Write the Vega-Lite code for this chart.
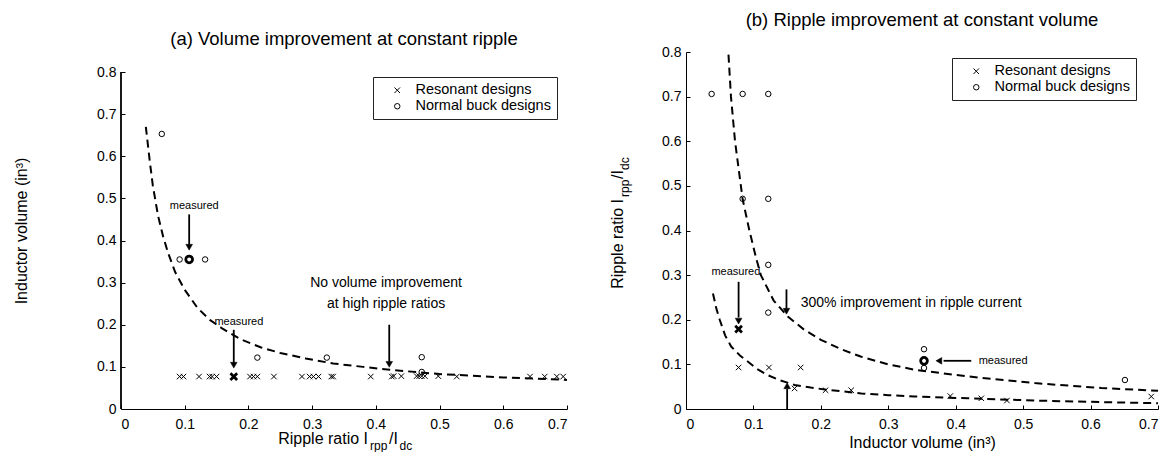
{
  "$schema": "https://vega.github.io/schema/vega-lite/v6.json",
  "padding": {"left": 13, "top": 10, "right": 0, "bottom": 0},
  "spacing": 39,
  "background": "white",
  "config": {
    "view": {"stroke": null},
    "font": "Liberation Sans",
    "title": {"font": "Liberation Sans", "fontSize": 18.5, "fontWeight": "normal", "color": "black", "offset": 16},
    "axis": {"grid": false, "domainColor": "black", "tickColor": "black", "labelColor": "black", "titleColor": "black", "labelFont": "Liberation Sans", "titleFont": "Liberation Sans", "labelFontSize": 14, "titleFontSize": 16, "titleFontWeight": "normal", "tickSize": -4},
    "axisX": {"labelPadding": 12},
    "axisY": {"labelPadding": 9}
  },
  "resolve": {"scale": {"shape": "independent", "x": "independent", "y": "independent"}},
  "hconcat": [
    {
      "width": 446,
      "height": 357,
      "title": {"text": "(a) Volume improvement at constant ripple", "offset": 4},
      "encoding": {
        "x": {"field": "x", "type": "quantitative", "scale": {"domain": [0, 0.7], "nice": false, "zero": false}, "axis": {"values": [0, 0.1, 0.2, 0.3, 0.4, 0.5, 0.6, 0.7], "format": "~g", "title": null}},
        "y": {"field": "y", "type": "quantitative", "scale": {"domain": [0, 0.8475], "nice": false, "zero": false}, "axis": {"values": [0, 0.1, 0.2, 0.3, 0.4, 0.5, 0.6, 0.7, 0.8], "format": "~g", "domain": false, "title": "Inductor volume (in³)", "titlePadding": 67}}
      },
      "layer": [
        {
          "data": {"values": [
            {"x": 0.039, "y": 0.67}, {"x": 0.045, "y": 0.59}, {"x": 0.05, "y": 0.53}, {"x": 0.058, "y": 0.46}, {"x": 0.066, "y": 0.41}, {"x": 0.074, "y": 0.37}, {"x": 0.085, "y": 0.325}, {"x": 0.1, "y": 0.283}, {"x": 0.12, "y": 0.24}, {"x": 0.14, "y": 0.211}, {"x": 0.16, "y": 0.19}, {"x": 0.187, "y": 0.166}, {"x": 0.22, "y": 0.146}, {"x": 0.25, "y": 0.133}, {"x": 0.29, "y": 0.12}, {"x": 0.333, "y": 0.108}, {"x": 0.38, "y": 0.1}, {"x": 0.422, "y": 0.093}, {"x": 0.5, "y": 0.083}, {"x": 0.6, "y": 0.075}, {"x": 0.7, "y": 0.069}
          ]},
          "mark": {"type": "line", "stroke": "black", "strokeWidth": 2, "strokeDash": [8, 5]}
        },
        {
          "data": {"values": [
            {"x": 0.064, "y": 0.653, "type": "Normal buck designs"}, {"x": 0.092, "y": 0.355, "type": "Normal buck designs"}, {"x": 0.132, "y": 0.355, "type": "Normal buck designs"}, {"x": 0.214, "y": 0.122, "type": "Normal buck designs"}, {"x": 0.323, "y": 0.122, "type": "Normal buck designs"}, {"x": 0.472, "y": 0.123, "type": "Normal buck designs"}, {"x": 0.472, "y": 0.088, "type": "Normal buck designs"},
            {"x": 0.092, "y": 0.077, "type": "Resonant designs"}, {"x": 0.098, "y": 0.077, "type": "Resonant designs"}, {"x": 0.1225, "y": 0.077, "type": "Resonant designs"}, {"x": 0.139, "y": 0.077, "type": "Resonant designs"}, {"x": 0.143, "y": 0.077, "type": "Resonant designs"}, {"x": 0.15, "y": 0.077, "type": "Resonant designs"}, {"x": 0.2025, "y": 0.077, "type": "Resonant designs"}, {"x": 0.208, "y": 0.077, "type": "Resonant designs"}, {"x": 0.214, "y": 0.077, "type": "Resonant designs"}, {"x": 0.24, "y": 0.077, "type": "Resonant designs"}, {"x": 0.284, "y": 0.077, "type": "Resonant designs"}, {"x": 0.296, "y": 0.077, "type": "Resonant designs"}, {"x": 0.302, "y": 0.077, "type": "Resonant designs"}, {"x": 0.31, "y": 0.077, "type": "Resonant designs"}, {"x": 0.33, "y": 0.077, "type": "Resonant designs"}, {"x": 0.333, "y": 0.077, "type": "Resonant designs"}, {"x": 0.392, "y": 0.077, "type": "Resonant designs"}, {"x": 0.425, "y": 0.077, "type": "Resonant designs"}, {"x": 0.428, "y": 0.078, "type": "Resonant designs"}, {"x": 0.44, "y": 0.078, "type": "Resonant designs"}, {"x": 0.464, "y": 0.078, "type": "Resonant designs"}, {"x": 0.468, "y": 0.078, "type": "Resonant designs"}, {"x": 0.472, "y": 0.078, "type": "Resonant designs"}, {"x": 0.477, "y": 0.078, "type": "Resonant designs"}, {"x": 0.498, "y": 0.078, "type": "Resonant designs"}, {"x": 0.527, "y": 0.077, "type": "Resonant designs"}, {"x": 0.642, "y": 0.077, "type": "Resonant designs"}, {"x": 0.665, "y": 0.077, "type": "Resonant designs"}, {"x": 0.684, "y": 0.077, "type": "Resonant designs"}, {"x": 0.694, "y": 0.077, "type": "Resonant designs"}
          ]},
          "mark": {"type": "point", "filled": false, "stroke": "black", "strokeWidth": 1, "size": 30, "opacity": 1},
          "encoding": {
            "shape": {"field": "type", "type": "nominal",
              "scale": {"domain": ["Resonant designs", "Normal buck designs"], "range": ["M-1,-1L1,1M-1,1L1,-1", "circle"]},
              "legend": {"orient": "none", "legendX": 252, "legendY": 25, "title": null, "strokeColor": "#222", "fillColor": "white", "padding": 6, "rowPadding": 1, "symbolOffset": 11, "labelOffset": 11, "labelFontSize": 14.5, "labelFont": "Liberation Sans", "labelColor": "black", "symbolStrokeColor": "black", "symbolFillColor": "transparent", "symbolStrokeWidth": 1, "symbolSize": 30}}
          }
        },
        {
          "data": {"values": [
            {"x": 0.107, "y": 0.355, "type": "Normal buck designs"}, {"x": 0.177, "y": 0.077, "type": "Resonant designs"}
          ]},
          "mark": {"type": "point", "filled": false, "stroke": "black", "strokeWidth": 2.8, "size": 45, "opacity": 1},
          "encoding": {
            "shape": {"field": "type", "type": "nominal",
              "scale": {"domain": ["Resonant designs", "Normal buck designs"], "range": ["M-1,-1L1,1M-1,1L1,-1", "circle"]},
              "legend": null}
          }
        },
        {
          "data": {"values": [
            {"x": 0, "y": 0, "x2": 0, "y2": 0.8},
            {"x": 0.107, "y": 0.462, "x2": 0.107, "y2": 0.39}, {"x": 0.177, "y": 0.188, "x2": 0.177, "y2": 0.11}, {"x": 0.421, "y": 0.2, "x2": 0.421, "y2": 0.112}
          ]},
          "mark": {"type": "rule", "stroke": "black", "strokeWidth": 1.8},
          "encoding": {"x2": {"field": "x2"}, "y2": {"field": "y2"}, "strokeWidth": {"condition": {"test": "datum.x === 0", "value": 1}, "value": 1.8}}
        },
        {
          "data": {"values": [
            {"x": 0.107, "y": 0.384}, {"x": 0.177, "y": 0.104}, {"x": 0.421, "y": 0.106}
          ]},
          "mark": {"type": "point", "shape": "triangle-down", "filled": true, "fill": "black", "stroke": "black", "strokeWidth": 0.5, "size": 45, "opacity": 1}
        },
        {
          "data": {"values": [
            {"x": 0.115, "y": 0.482, "t": "measured"}, {"x": 0.185, "y": 0.207, "t": "measured"}
          ]},
          "mark": {"type": "text", "font": "Liberation Sans", "fontSize": 11, "align": "center", "baseline": "middle", "color": "black"},
          "encoding": {"text": {"field": "t"}}
        },
        {
          "data": {"values": [
            {"x": 0.416, "y": 0.298, "t": "No volume improvement"}, {"x": 0.416, "y": 0.25, "t": "at high ripple ratios"}
          ]},
          "mark": {"type": "text", "font": "Liberation Sans", "fontSize": 14, "align": "center", "baseline": "middle", "color": "black"},
          "encoding": {"text": {"field": "t"}}
        },
        {
          "data": {"values": [{"x": 0.3877, "y": -0.0831, "t": "Ripple ratio I"}]},
          "mark": {"type": "text", "font": "Liberation Sans", "fontSize": 16, "align": "right", "baseline": "alphabetic", "color": "black"},
          "encoding": {"text": {"field": "t"}}
        },
        {
          "data": {"values": [{"x": 0.4206, "y": -0.0831, "t": "/I"}]},
          "mark": {"type": "text", "font": "Liberation Sans", "fontSize": 16, "align": "left", "baseline": "alphabetic", "color": "black"},
          "encoding": {"text": {"field": "t"}}
        },
        {
          "data": {"values": [{"x": 0.3908, "y": -0.0962, "t": "rpp"}, {"x": 0.4372, "y": -0.0962, "t": "dc"}]},
          "mark": {"type": "text", "font": "Liberation Sans", "fontSize": 12, "align": "left", "baseline": "alphabetic", "color": "black"},
          "encoding": {"text": {"field": "t"}}
        }
      ]
    },
    {
      "width": 472,
      "height": 357,
      "title": "(b) Ripple improvement at constant volume",
      "encoding": {
        "x": {"field": "x", "type": "quantitative", "scale": {"domain": [0, 0.7], "nice": false, "zero": false}, "axis": {"values": [0, 0.1, 0.2, 0.3, 0.4, 0.5, 0.6, 0.7], "format": "~g", "title": "Inductor volume (in³)", "titlePadding": 3}},
        "y": {"field": "y", "type": "quantitative", "scale": {"domain": [0, 0.8], "nice": false, "zero": false}, "axis": {"values": [0, 0.1, 0.2, 0.3, 0.4, 0.5, 0.6, 0.7, 0.8], "format": "~g", "title": null}}
      },
      "layer": [
        {
          "data": {"values": [
            {"x": 0.063, "y": 0.794, "c": "u"}, {"x": 0.0667, "y": 0.7, "c": "u"}, {"x": 0.0727, "y": 0.6, "c": "u"}, {"x": 0.084, "y": 0.47, "c": "u"}, {"x": 0.094, "y": 0.4, "c": "u"}, {"x": 0.104, "y": 0.338, "c": "u"}, {"x": 0.111, "y": 0.3, "c": "u"}, {"x": 0.13, "y": 0.243, "c": "u"}, {"x": 0.151, "y": 0.207, "c": "u"}, {"x": 0.175, "y": 0.178, "c": "u"}, {"x": 0.2, "y": 0.155, "c": "u"}, {"x": 0.23, "y": 0.134, "c": "u"}, {"x": 0.26, "y": 0.117, "c": "u"}, {"x": 0.3, "y": 0.1, "c": "u"}, {"x": 0.339, "y": 0.088, "c": "u"}, {"x": 0.418, "y": 0.073, "c": "u"}, {"x": 0.517, "y": 0.058, "c": "u"}, {"x": 0.616, "y": 0.047, "c": "u"}, {"x": 0.7, "y": 0.041, "c": "u"},
            {"x": 0.04, "y": 0.259, "c": "l"}, {"x": 0.045, "y": 0.225, "c": "l"}, {"x": 0.05, "y": 0.2, "c": "l"}, {"x": 0.058, "y": 0.165, "c": "l"}, {"x": 0.067, "y": 0.14, "c": "l"}, {"x": 0.08, "y": 0.12, "c": "l"}, {"x": 0.092, "y": 0.106, "c": "l"}, {"x": 0.105, "y": 0.09, "c": "l"}, {"x": 0.121, "y": 0.076, "c": "l"}, {"x": 0.14, "y": 0.064, "c": "l"}, {"x": 0.161, "y": 0.054, "c": "l"}, {"x": 0.185, "y": 0.048, "c": "l"}, {"x": 0.21, "y": 0.043, "c": "l"}, {"x": 0.26, "y": 0.035, "c": "l"}, {"x": 0.3, "y": 0.031, "c": "l"}, {"x": 0.339, "y": 0.028, "c": "l"}, {"x": 0.418, "y": 0.024, "c": "l"}, {"x": 0.516, "y": 0.019, "c": "l"}, {"x": 0.6, "y": 0.016, "c": "l"}, {"x": 0.7, "y": 0.013, "c": "l"}
          ]},
          "mark": {"type": "line", "stroke": "black", "strokeWidth": 2, "strokeDash": [8, 5]},
          "encoding": {"detail": {"field": "c", "type": "nominal"}}
        },
        {
          "data": {"values": [
            {"x": 0.038, "y": 0.706, "type": "Normal buck designs"}, {"x": 0.084, "y": 0.706, "type": "Normal buck designs"}, {"x": 0.122, "y": 0.706, "type": "Normal buck designs"}, {"x": 0.084, "y": 0.471, "type": "Normal buck designs"}, {"x": 0.122, "y": 0.471, "type": "Normal buck designs"}, {"x": 0.122, "y": 0.323, "type": "Normal buck designs"}, {"x": 0.122, "y": 0.216, "type": "Normal buck designs"}, {"x": 0.353, "y": 0.134, "type": "Normal buck designs"}, {"x": 0.353, "y": 0.092, "type": "Normal buck designs"}, {"x": 0.651, "y": 0.065, "type": "Normal buck designs"},
            {"x": 0.078, "y": 0.093, "type": "Resonant designs"}, {"x": 0.123, "y": 0.093, "type": "Resonant designs"}, {"x": 0.17, "y": 0.093, "type": "Resonant designs"}, {"x": 0.161, "y": 0.046, "type": "Resonant designs"}, {"x": 0.207, "y": 0.042, "type": "Resonant designs"}, {"x": 0.245, "y": 0.042, "type": "Resonant designs"}, {"x": 0.392, "y": 0.029, "type": "Resonant designs"}, {"x": 0.438, "y": 0.024, "type": "Resonant designs"}, {"x": 0.476, "y": 0.019, "type": "Resonant designs"}, {"x": 0.69, "y": 0.028, "type": "Resonant designs"}
          ]},
          "mark": {"type": "point", "filled": false, "stroke": "black", "strokeWidth": 1, "size": 30, "opacity": 1},
          "encoding": {
            "shape": {"field": "type", "type": "nominal",
              "scale": {"domain": ["Resonant designs", "Normal buck designs"], "range": ["M-1,-1L1,1M-1,1L1,-1", "circle"]},
              "legend": {"orient": "none", "legendX": 266, "legendY": 6, "title": null, "strokeColor": "#222", "fillColor": "white", "padding": 6, "rowPadding": 1, "symbolOffset": 11, "labelOffset": 11, "labelFontSize": 14.5, "labelFont": "Liberation Sans", "labelColor": "black", "symbolStrokeColor": "black", "symbolFillColor": "transparent", "symbolStrokeWidth": 1, "symbolSize": 30}}
          }
        },
        {
          "data": {"values": [
            {"x": 0.353, "y": 0.108, "type": "Normal buck designs"}, {"x": 0.078, "y": 0.179, "type": "Resonant designs"}
          ]},
          "mark": {"type": "point", "filled": false, "stroke": "black", "strokeWidth": 2.8, "size": 45, "opacity": 1},
          "encoding": {
            "shape": {"field": "type", "type": "nominal",
              "scale": {"domain": ["Resonant designs", "Normal buck designs"], "range": ["M-1,-1L1,1M-1,1L1,-1", "circle"]},
              "legend": null}
          }
        },
        {
          "data": {"values": [
            {"x": 0.078, "y": 0.285, "x2": 0.078, "y2": 0.205}, {"x": 0.149, "y": 0.268, "x2": 0.149, "y2": 0.225}, {"x": 0.15, "y": 0, "x2": 0.15, "y2": 0.045}, {"x": 0.423, "y": 0.108, "x2": 0.382, "y2": 0.108}
          ]},
          "mark": {"type": "rule", "stroke": "black", "strokeWidth": 1.8},
          "encoding": {"x2": {"field": "x2"}, "y2": {"field": "y2"}}
        },
        {
          "data": {"values": [{"x": 0.078, "y": 0.197}, {"x": 0.149, "y": 0.219}]},
          "mark": {"type": "point", "shape": "triangle-down", "filled": true, "fill": "black", "stroke": "black", "strokeWidth": 0.5, "size": 45, "opacity": 1}
        },
        {
          "data": {"values": [{"x": 0.15, "y": 0.052}]},
          "mark": {"type": "point", "shape": "triangle-up", "filled": true, "fill": "black", "stroke": "black", "strokeWidth": 0.5, "size": 45, "opacity": 1}
        },
        {
          "data": {"values": [{"x": 0.375, "y": 0.108}]},
          "mark": {"type": "point", "shape": "triangle-left", "filled": true, "fill": "black", "stroke": "black", "strokeWidth": 0.5, "size": 45, "opacity": 1}
        },
        {
          "data": {"values": [{"x": 0.074, "y": 0.306, "t": "measured"}]},
          "mark": {"type": "text", "font": "Liberation Sans", "fontSize": 11, "align": "center", "baseline": "middle", "color": "black"},
          "encoding": {"text": {"field": "t"}}
        },
        {
          "data": {"values": [{"x": 0.434, "y": 0.108, "t": "measured"}]},
          "mark": {"type": "text", "font": "Liberation Sans", "fontSize": 11, "align": "left", "baseline": "middle", "color": "black"},
          "encoding": {"text": {"field": "t"}}
        },
        {
          "data": {"values": [{"x": 0.17, "y": 0.238, "t": "300% improvement in ripple current"}]},
          "mark": {"type": "text", "font": "Liberation Sans", "fontSize": 14, "align": "left", "baseline": "middle", "color": "black"},
          "encoding": {"text": {"field": "t"}}
        },
        {
          "data": {"values": [{"x": -0.0934, "y": 0.4706, "t": "Ripple ratio I"}]},
          "mark": {"type": "text", "font": "Liberation Sans", "fontSize": 16, "angle": 270, "align": "right", "baseline": "alphabetic", "color": "black"},
          "encoding": {"text": {"field": "t"}}
        },
        {
          "data": {"values": [{"x": -0.0934, "y": 0.5154, "t": "/I"}]},
          "mark": {"type": "text", "font": "Liberation Sans", "fontSize": 16, "angle": 270, "align": "left", "baseline": "alphabetic", "color": "black"},
          "encoding": {"text": {"field": "t"}}
        },
        {
          "data": {"values": [{"x": -0.0845, "y": 0.4751, "t": "rpp"}, {"x": -0.0845, "y": 0.5356, "t": "dc"}]},
          "mark": {"type": "text", "font": "Liberation Sans", "fontSize": 12, "angle": 270, "align": "left", "baseline": "alphabetic", "color": "black"},
          "encoding": {"text": {"field": "t"}}
        }
      ]
    }
  ]
}
